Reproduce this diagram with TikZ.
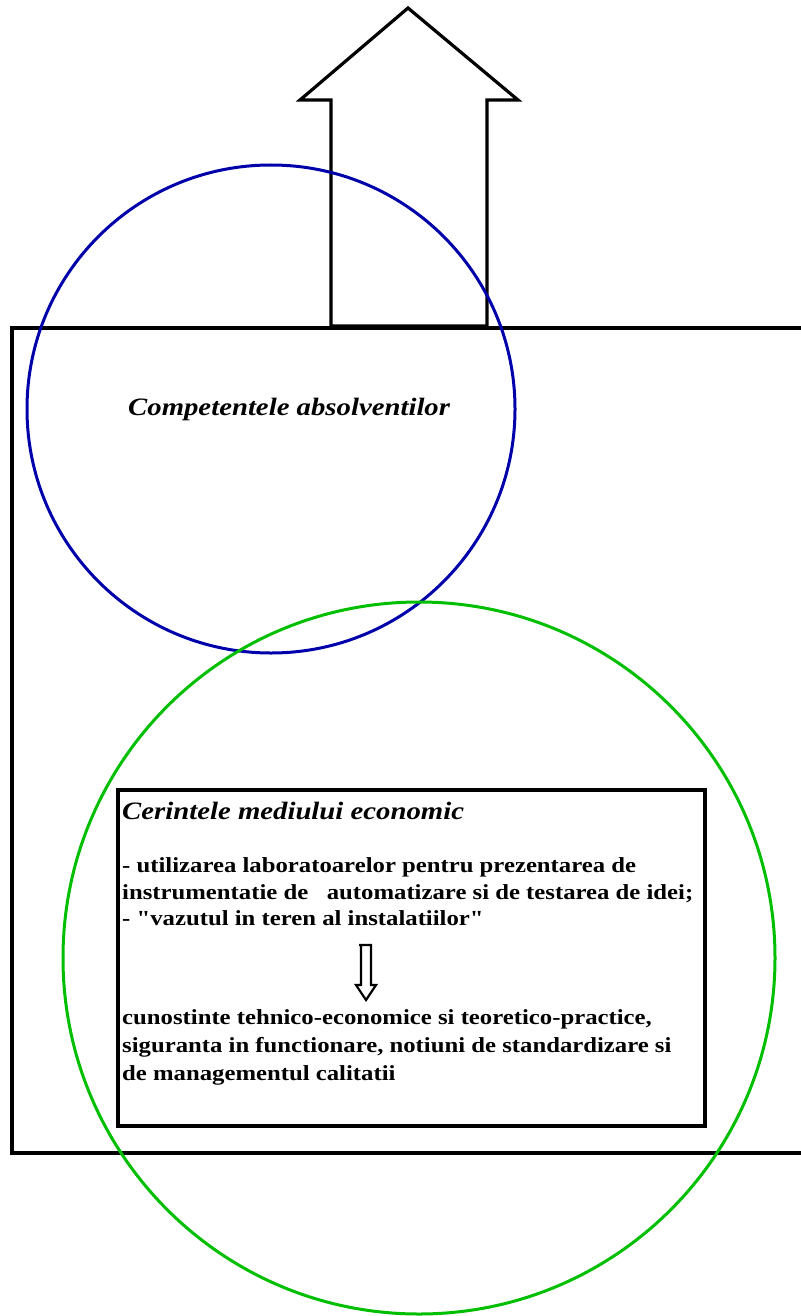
\documentclass[tikz,border=0pt]{standalone}
\usepackage{fontspec}
\setmainfont{Liberation Serif}
\newfontfamily\wideserif[FakeStretch=1.15]{Liberation Serif}
\begin{document}
\begin{tikzpicture}[x=1pt,y=-1pt,
  frame/.style={draw=black,line width=3.5pt},
  bodyline/.style={anchor=base west,inner sep=0pt,font=\wideserif\fontsize{21.5}{26}\selectfont\bfseries},
  headline/.style={inner sep=0pt,font=\wideserif\fontsize{25}{29}\selectfont\bfseries\itshape},
]
\useasboundingbox (0,0) rectangle (800,1316);
% big rectangle (right side runs off the page)
\draw[frame] (12,328) rectangle (810,1153);
% big hollow up arrow
\draw[line width=3.2pt,line join=miter,fill=white]
  (331,326) -- (331,100) -- (300,100) -- (408,8) -- (518,100) -- (487,100) -- (487,326) -- cycle;
% circles
\node[draw={rgb,255:red,0;green,0;blue,170},line width=3pt,circle,minimum size=488pt,inner sep=0pt] (comp) at (271,409) {};
\node[draw={rgb,255:red,0;green,190;blue,0},line width=3pt,circle,minimum size=712pt,inner sep=0pt] (cer) at (419,958) {};
\node[headline,anchor=base west] (comptext) at (128,415) {Competentele absolventilor};
% inner box
\node[frame,fill=white,minimum width=587pt,minimum height=336pt,anchor=north west,inner sep=0pt] (box) at (116,788) {};
\node[headline,anchor=base west] (title) at (122,819) {Cerintele mediului economic};
\node[bodyline] (l1) at (122,872) {- utilizarea laboratoarelor pentru prezentarea de};
\node[bodyline] (l2) at (122,899) {instrumentatie de\ \ \ automatizare si de testarea de idei;};
\node[bodyline] (l3) at (122,925) {- \symbol{34}vazutul in teren al instalatiilor\symbol{34}};
\node[bodyline] (l4) at (122,1024) {cunostinte tehnico-economice si teoretico-practice,};
\node[bodyline] (l5) at (122,1052) {siguranta in functionare, notiuni de standardizare si};
\node[bodyline] (l6) at (122,1080) {de managementul calitatii};
% small hollow down arrow
\draw[line width=2.2pt,line join=miter,fill=white]
  (359,945) -- (371,945) -- (371,985) -- (376,985) -- (366,1000) -- (356,985) -- (361,985) -- (361,945);
\end{tikzpicture}
\end{document}
